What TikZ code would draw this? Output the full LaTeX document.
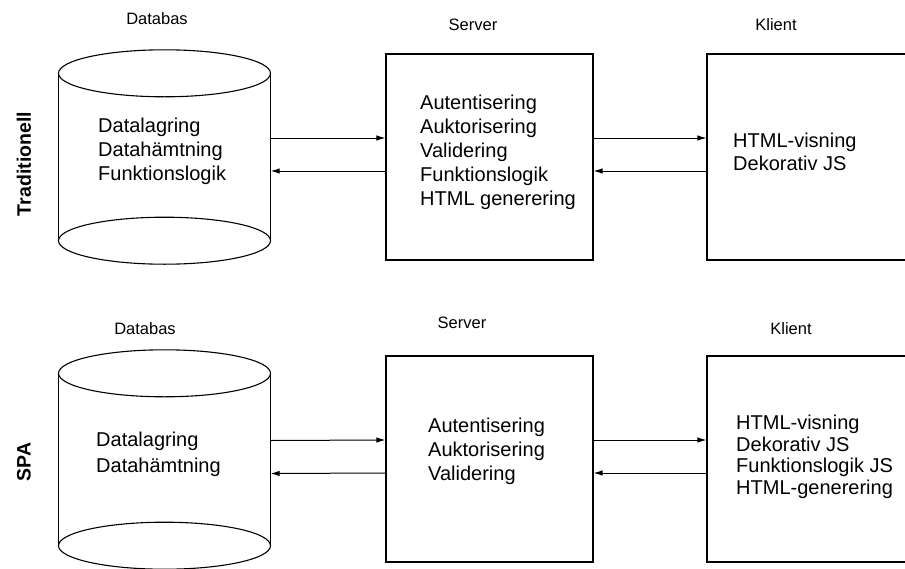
\documentclass[tikz,border=0pt]{standalone}
\usepackage{fontspec}
\setmainfont{Liberation Sans}
\usetikzlibrary{arrows.meta}
\tikzset{box/.style = {draw, line width = 1.1, minimum width = 207, minimum height = 206, inner sep = 0}}
\tikzset{cyl/.style = {minimum width = 212, inner sep = 0}}
\tikzset{item/.style = {anchor = west, align = left, inner sep = 0, font = \fontsize{20}{24}\selectfont}}
\tikzset{head/.style = {inner sep = 0, font = \fontsize{16.5}{20}\selectfont}}
\tikzset{side/.style = {rotate = 90, inner sep = 0, font = \bfseries\fontsize{19.5}{22}\selectfont}}
\tikzset{flow/.style = {-{Latex[length = 9pt, width = 5.5pt]}, line width = 1}}

\begin{document}
\begin{tikzpicture}[x = 1pt, y = -1pt]
    \useasboundingbox (0, 0) rectangle (905, 568);
    \clip (0, 0) rectangle (905, 568);

    % Traditionell
    \node [side] (trad) at (24, 164) {Traditionell};
    \node [head] (dbhead1) at (157, 19) {Databas};
    \node [head] (srvhead1) at (473, 25) {Server};
    \node [head] (clihead1) at (776, 25) {Klient};

    \node [cyl, minimum height = 214] (db1) at (164.5, 157) {};
    \node [box] (srv1) at (489.5, 157) {};
    \node [box] (cli1) at (810.5, 157) {};

    \node [item] (dbtext1) at (98, 151) {Datalagring\\Datahämtning\\Funktionslogik};
    \node [item] (srvtext1) at (420, 152) {Autentisering\\Auktorisering\\Validering\\Funktionslogik\\HTML generering};
    \node [item, font = \fontsize{20}{23}\selectfont] (clitext1) at (733, 151.5) {HTML-visning\\Dekorativ JS};

    % SPA
    \node [side] (spa) at (24, 462) {SPA};
    \node [head] (dbhead2) at (145, 329) {Databas};
    \node [head] (srvhead2) at (462, 323) {Server};
    \node [head] (clihead2) at (791, 329) {Klient};

    \node [cyl, minimum height = 219] (db2) at (164.5, 459.5) {};
    \node [box] (srv2) at (489.5, 459) {};
    \node [box] (cli2) at (810.5, 459) {};

    \node [item, font = \fontsize{20}{26}\selectfont] (dbtext2) at (96, 454) {Datalagring\\Datahämtning};
    \node [item] (srvtext2) at (428, 451) {Autentisering\\Auktorisering\\Validering};
    \node [item, font = \fontsize{20}{21.5}\selectfont] (clitext2) at (736, 457) {HTML-visning\\Dekorativ JS\\Funktionslogik JS\\HTML-generering};

    % cylinders
    \foreach \c in {db1, db2} {
      \draw [line width = 1.1] ([yshift = -23.5]\c.north) ellipse [x radius = 106, y radius = 23.5];
      \draw [line width = 1.1] ([yshift = 23.5]\c.south) ellipse [x radius = 106, y radius = 23.5];
      \draw [line width = 1.1] ([yshift = -23.5]\c.north west) -- ([yshift = 23.5]\c.south west);
      \draw [line width = 1.1] ([yshift = -23.5]\c.north east) -- ([yshift = 23.5]\c.south east);
    }

    % connectors
    \foreach \r in {1, 2} {
      \draw [flow] ([yshift = 19]db\r.east) -- ([yshift = 19]srv\r.west);
      \draw [flow] ([yshift = -14]srv\r.west) -- ([yshift = -14]db\r.east);
      \draw [flow] ([yshift = 19]srv\r.east) -- ([yshift = 19]cli\r.west);
      \draw [flow] ([yshift = -14]cli\r.west) -- ([yshift = -14]srv\r.east);
    }
\end{tikzpicture}
\end{document}
